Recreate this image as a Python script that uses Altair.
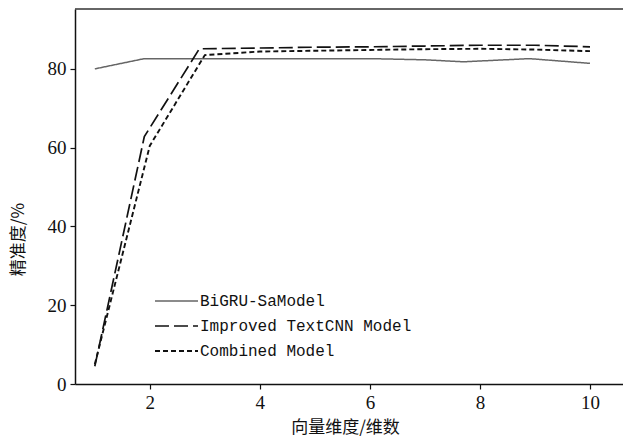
import altair as alt
import pandas as pd

series_names = ["BiGRU-SaModel", "Improved TextCNN Model", "Combined Model"]

bigru_x = [1, 1.9, 3, 4, 5, 6, 7, 7.7, 8.9, 10]
bigru_y = [80.0, 82.6, 82.6, 82.6, 82.6, 82.6, 82.3, 81.8, 82.6, 81.4]

textcnn_x = [1, 1.9, 2.9, 4, 5, 6, 7, 8, 9, 10]
textcnn_y = [4.5, 62.8, 85.1, 85.3, 85.5, 85.6, 85.8, 86.0, 86.0, 85.6]

combined_x = [1, 2, 3, 4, 5, 6, 7, 8, 9, 10]
combined_y = [5.0, 60.5, 83.5, 84.4, 84.6, 84.8, 85.0, 85.1, 84.9, 84.5]

x_ticks = [2, 4, 6, 8, 10]
y_ticks = [0, 20, 40, 60, 80]

rows = []
for name, xs, ys in [(series_names[0], bigru_x, bigru_y),
                     (series_names[1], textcnn_x, textcnn_y),
                     (series_names[2], combined_x, combined_y)]:
    for i, (xv, yv) in enumerate(zip(xs, ys)):
        rows.append({"model": name, "dim": xv, "acc": yv, "order": i})
df = pd.DataFrame(rows)

legend_df = pd.DataFrame({"model": series_names, "row": list(range(len(series_names)))})

W, H = 548, 375

color_scale = alt.Scale(domain=series_names, range=["#666666", "#111111", "#111111"])
dash_scale = alt.Scale(domain=series_names, range=[[1, 0], [14, 5], [5, 3]])
width_scale = alt.Scale(domain=series_names, range=[1.5, 1.9, 1.5])

lines = alt.Chart(df).mark_line(clip=True).encode(
    x=alt.X("dim:Q", scale=alt.Scale(domain=[0.64, 10.6], nice=False, zero=False),
            axis=alt.Axis(values=x_ticks, title="向量维度/维数", grid=False,
                          titleX=270, titleY=43, titleBaseline="middle",
                          labelFont="Liberation Serif")),
    y=alt.Y("acc:Q", scale=alt.Scale(domain=[0, 95.2], nice=False),
            axis=alt.Axis(values=y_ticks, title="精准度/%", grid=False,
                          titleX=-57, titleY=230, labelFont="Liberation Serif")),
    order="order:O",
    color=alt.Color("model:N", scale=color_scale, legend=None),
    strokeDash=alt.StrokeDash("model:N", scale=dash_scale, legend=None),
    strokeWidth=alt.StrokeWidth("model:N", scale=width_scale, legend=None),
)

legend_base = alt.Chart(legend_df).transform_calculate(
    ypx="292 + 25 * datum.row", x0="80", x1="123", xt="125"
)
legend_lines = legend_base.mark_rule().encode(
    x=alt.X("x0:Q", scale=None, axis=None),
    x2="x1:Q",
    y=alt.Y("ypx:Q", scale=None, axis=None),
    color=alt.Color("model:N", scale=color_scale, legend=None),
    strokeDash=alt.StrokeDash("model:N", scale=dash_scale, legend=None),
    strokeWidth=alt.StrokeWidth("model:N", scale=width_scale, legend=None),
)
legend_text = legend_base.mark_text(align="left", baseline="middle", font="Liberation Mono",
                                    fontSize=16, color="#111111").encode(
    x=alt.X("xt:Q", scale=None, axis=None),
    y=alt.Y("ypx:Q", scale=None, axis=None),
    text="model:N",
)

top_border = alt.Chart(pd.DataFrame({"v": [0]})).mark_rule(color="#333333", strokeWidth=1.5).encode(
    x=alt.value(0), x2=alt.value(W), y=alt.value(0)
)

chart = alt.layer(lines, legend_lines, legend_text, top_border).resolve_scale(
    x="independent", y="independent"
).properties(
    width=W, height=H,
    autosize=alt.AutoSizeParams(type="none"),
    padding={"left": 75, "top": 9, "right": 0, "bottom": 55},
).configure_view(stroke=None).configure_axis(
    domainColor="#111111", domainWidth=1.5, tickColor="#111111", tickSize=5,
    tickWidth=1.2, labelFontSize=19, labelColor="#111111",
    titleFont="Noto Sans CJK SC", titleFontSize=17, titleColor="#111111",
    titleFontWeight="normal", labelPadding=4
).configure_axisY(titleAngle=-90, titleBaseline="middle", titleAlign="center")

chart.save("out.html", embed_options={"renderer": "svg", "actions": False})
